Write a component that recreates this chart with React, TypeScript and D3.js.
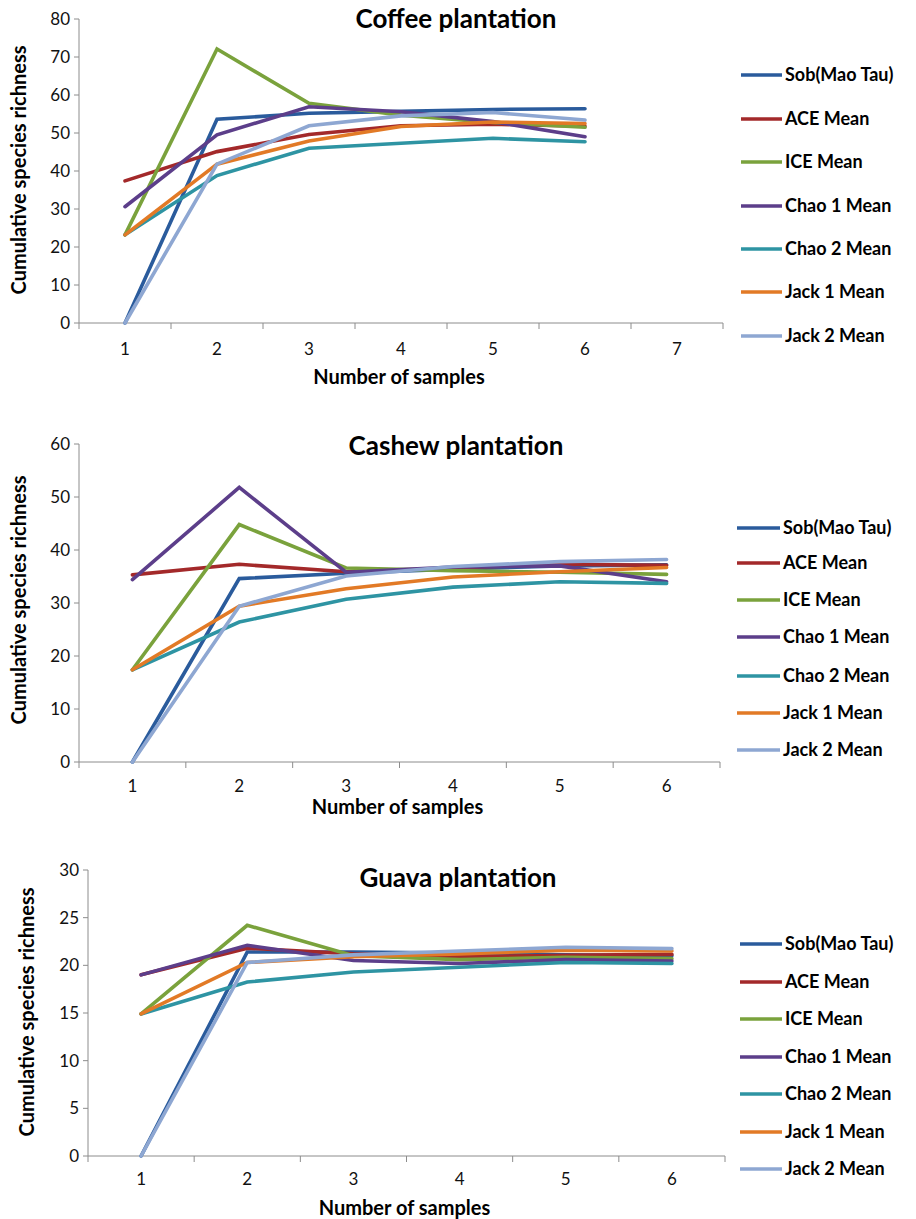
import React from "react";
import * as d3 from "d3";

const seriesNames = ["Sob(Mao Tau)", "ACE Mean", "ICE Mean", "Chao 1 Mean", "Chao 2 Mean", "Jack 1 Mean", "Jack 2 Mean"];
const seriesColors = ["#2A5B9C", "#A3292A", "#7AA23C", "#5C3E8A", "#2E94A3", "#E27A26", "#8EA7D2"];

const coffeeCategories = ["1", "2", "3", "4", "5", "6", "7"];
const coffeeSob = [0, 53.6, 55.2, 55.7, 56.2, 56.4];
const coffeeACE = [37.4, 45.1, 49.6, 51.9, 52.3, 51.8];
const coffeeICE = [23.2, 72.1, 57.8, 54.7, 52.8, 51.5];
const coffeeChao1 = [30.6, 49.5, 56.9, 55.6, 53.0, 49.0];
const coffeeChao2 = [23.2, 38.8, 46.0, 47.3, 48.6, 47.7];
const coffeeJack1 = [23.2, 41.8, 47.9, 51.7, 52.9, 52.5];
const coffeeJack2 = [0, 41.8, 51.9, 54.5, 55.4, 53.4];
const coffeeYTicks = [0, 10, 20, 30, 40, 50, 60, 70, 80];

const cashewCategories = ["1", "2", "3", "4", "5", "6"];
const cashewSob = [0, 34.6, 35.6, 36.4, 37.0, 37.2];
const cashewACE = [35.3, 37.3, 35.9, 36.6, 37.3, 37.1];
const cashewICE = [17.4, 44.8, 36.6, 36.1, 35.8, 35.4];
const cashewChao1 = [34.4, 51.8, 35.8, 36.8, 37.0, 34.0];
const cashewChao2 = [17.4, 26.4, 30.7, 33.0, 34.0, 33.7];
const cashewJack1 = [17.4, 29.4, 32.7, 34.9, 35.9, 36.7];
const cashewJack2 = [0, 29.4, 35.1, 36.9, 37.8, 38.2];
const cashewYTicks = [0, 10, 20, 30, 40, 50, 60];

const guavaCategories = ["1", "2", "3", "4", "5", "6"];
const guavaSob = [0, 21.4, 21.4, 21.3, 21.1, 21.0];
const guavaACE = [19.0, 21.8, 21.2, 20.9, 21.05, 21.15];
const guavaICE = [14.9, 24.2, 21.0, 20.6, 20.85, 20.7];
const guavaChao1 = [19.0, 22.1, 20.5, 20.2, 20.6, 20.45];
const guavaChao2 = [14.9, 18.25, 19.3, 19.8, 20.3, 20.2];
const guavaJack1 = [14.9, 20.3, 20.9, 21.2, 21.6, 21.5];
const guavaJack2 = [0, 20.3, 21.1, 21.5, 21.9, 21.75];
const guavaYTicks = [0, 5, 10, 15, 20, 25, 30];

const FONT = "Lato, 'Open Sans', sans-serif";

type Panel = {
  title: string;
  categories: string[];
  series: number[][];
  yTicks: number[];
  left: number; right: number; top: number; bottom: number;
  titleX: number; titleY: number;
  xTitleY: number; xLabelY: number;
  yTitleX: number; yTitleY: number;
  legX1: number; legX2: number; legYs: number[];
};

const panels: Panel[] = [
  {
    title: "Coffee plantation", categories: coffeeCategories,
    series: [coffeeSob, coffeeACE, coffeeICE, coffeeChao1, coffeeChao2, coffeeJack1, coffeeJack2],
    yTicks: coffeeYTicks, left: 79, right: 723, top: 19, bottom: 323,
    titleX: 456, titleY: 28, xTitleY: 384, xLabelY: 355, yTitleX: 26, yTitleY: 170,
    legX1: 741, legX2: 782, legYs: [75, 119, 162, 206, 249, 292, 336],
  },
  {
    title: "Cashew plantation", categories: cashewCategories,
    series: [cashewSob, cashewACE, cashewICE, cashewChao1, cashewChao2, cashewJack1, cashewJack2],
    yTicks: cashewYTicks, left: 79, right: 720, top: 444, bottom: 762,
    titleX: 456, titleY: 455, xTitleY: 814, xLabelY: 792, yTitleX: 26, yTitleY: 600,
    legX1: 737, legX2: 780, legYs: [528, 563, 600, 637, 676, 713, 750],
  },
  {
    title: "Guava plantation", categories: guavaCategories,
    series: [guavaSob, guavaACE, guavaICE, guavaChao1, guavaChao2, guavaJack1, guavaJack2],
    yTicks: guavaYTicks, left: 88, right: 725, top: 870, bottom: 1156,
    titleX: 458, titleY: 887, xTitleY: 1215, xLabelY: 1185, yTitleX: 34, yTitleY: 1012,
    legX1: 740, legX2: 782, legYs: [944, 982, 1019, 1057, 1094, 1132, 1169],
  },
];

function ChartPanel({ p }: { p: Panel }) {
  const x = d3.scaleBand<string>().domain(p.categories).range([p.left, p.right]);
  const yMax = p.yTicks[p.yTicks.length - 1];
  const y = d3.scaleLinear().domain([0, yMax]).range([p.bottom, p.top]);
  const line = d3
    .line<number>()
    .x((_, i) => (x(p.categories[i]) as number) + x.bandwidth() / 2)
    .y((d) => y(d));
  const boundaries = p.categories.map((c) => x(c) as number).concat([p.right]);
  const axisColor = "#8c8c8c";
  return (
    <g>
      <line x1={p.left} x2={p.left} y1={p.top} y2={p.bottom} stroke={axisColor} strokeWidth={1} />
      {p.yTicks.map((t) => (
        <g key={"yt" + t}>
          <line x1={p.left - 5} x2={p.left} y1={y(t)} y2={y(t)} stroke={axisColor} />
          <text x={p.left - 9} y={y(t)} dy="0.35em" textAnchor="end" fontFamily={FONT} fontSize={17} fill="#111">
            {t}
          </text>
        </g>
      ))}
      <line x1={p.left} x2={p.right} y1={p.bottom} y2={p.bottom} stroke={axisColor} strokeWidth={1} />
      {boundaries.map((b, i) => (
        <line key={"xt" + i} x1={b} x2={b} y1={p.bottom} y2={p.bottom + 6} stroke={axisColor} />
      ))}
      {p.categories.map((c) => (
        <text key={"xl" + c} x={(x(c) as number) + x.bandwidth() / 2} y={p.xLabelY} textAnchor="middle" fontFamily={FONT} fontSize={17} fill="#111">
          {c}
        </text>
      ))}
      {p.series.map((s, i) => (
        <path key={"s" + i} d={line(s) || ""} fill="none" stroke={seriesColors[i]} strokeWidth={3.6} strokeLinejoin="miter" strokeLinecap="round" />
      ))}
      <text x={p.titleX} y={p.titleY} textAnchor="middle" fontFamily={FONT} fontWeight="bold" fontSize={26} fill="#000">
        {p.title}
      </text>
      <text x={(p.left + p.right) / 2 - 2} y={p.xTitleY} textAnchor="middle" fontFamily={FONT} fontWeight="bold" fontSize={20} fill="#000">
        Number of samples
      </text>
      <text
        transform={`translate(${p.yTitleX},${p.yTitleY}) rotate(-90)`}
        textAnchor="middle"
        fontFamily={FONT}
        fontWeight="bold"
        fontSize={20}
        fill="#000"
      >
        Cumulative species richness
      </text>
      {seriesNames.map((n, i) => (
        <g key={"lg" + i}>
          <line x1={p.legX1} x2={p.legX2} y1={p.legYs[i]} y2={p.legYs[i]} stroke={seriesColors[i]} strokeWidth={3.6} />
          <text x={p.legX2 + 3} y={p.legYs[i]} dy="0.35em" fontFamily={FONT} fontWeight="bold" fontSize={18} fill="#000">
            {n}
          </text>
        </g>
      ))}
    </g>
  );
}

export default function App() {
  return (
    <svg width={916} height={1219} style={{ position: "absolute", left: 0, top: 0, background: "#fff" }}>
      <rect width={916} height={1219} fill="#fff" />
      {panels.map((p, i) => (
        <ChartPanel key={i} p={p} />
      ))}
    </svg>
  );
}
